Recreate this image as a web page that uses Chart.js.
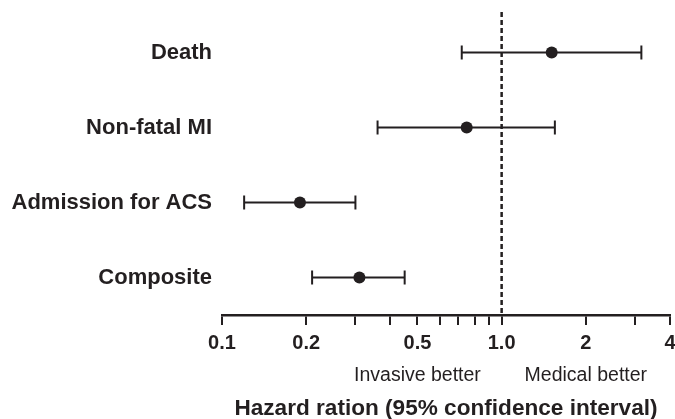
<!DOCTYPE html>
<html lang="en">
<head>
    <meta charset="UTF-8">
    <title>Hazard ratio forest plot</title>
    <style>
        body { margin: 0; background: #fff; }
        canvas { display: block; }
    </style>
</head>
<body>
    <canvas id="forestChart" width="675" height="419"></canvas>
    <script src="https://cdn.jsdelivr.net/npm/chart.js"></script>
    <script>
const categories = ['Death', 'Non-fatal MI', 'Admission for ACS', 'Composite'];
const hazardRatio = [1.51, 0.75, 0.19, 0.31];
const ciLow = [0.72, 0.36, 0.12, 0.21];
const ciHigh = [3.16, 1.55, 0.30, 0.45];
const tickValues = [0.1, 0.2, 0.3, 0.4, 0.5, 0.6, 0.7, 0.8, 0.9, 1.0, 2, 3, 4];
const tickLabels = ['0.1', '0.2', '', '', '0.5', '', '', '', '', '1.0', '2', '', '4'];
const sideLabels = ['Invasive better', 'Medical better'];
const sideValues = [0.5, 2];
const refValue = 1.0;

const ink = '#231f20';
const fontFamily = "'Liberation Sans', Arial, Helvetica, sans-serif";

// whiskers: one line per row, caps drawn as rotated 'line' points
const datasets = categories.map((cat, i) => ({
    data: [{ x: ciLow[i], y: cat }, { x: ciHigh[i], y: cat }],
    showLine: true,
    borderColor: ink,
    borderWidth: 2,
    pointStyle: 'line',
    pointRotation: 90,
    pointRadius: 7,
    pointBorderWidth: 2,
    pointBorderColor: ink
}));

datasets.push({
    data: categories.map((cat, i) => ({ x: hazardRatio[i], y: cat })),
    showLine: false,
    pointStyle: 'circle',
    pointRadius: 6,
    pointBorderWidth: 0,
    backgroundColor: ink,
    pointBackgroundColor: ink
});

const refLinePlugin = {
    id: 'refLine',
    beforeDatasetsDraw(chart) {
        const { ctx, chartArea, scales } = chart;
        const x = scales.x.getPixelForValue(refValue);
        ctx.save();
        ctx.strokeStyle = ink;
        ctx.lineWidth = 2.5;
        ctx.setLineDash([5, 3]);
        ctx.beginPath();
        ctx.moveTo(x, chartArea.top - 3);
        ctx.lineTo(x, chartArea.bottom);
        ctx.stroke();
        ctx.restore();
    },
    afterDraw(chart) {
        const { ctx, scales } = chart;
        ctx.save();
        ctx.fillStyle = ink;
        ctx.font = '19.5px ' + fontFamily;
        ctx.textAlign = 'center';
        ctx.textBaseline = 'middle';
        sideLabels.forEach((txt, i) => {
            ctx.fillText(txt, scales.x.getPixelForValue(sideValues[i]), 376);
        });
        ctx.restore();
    }
};

new Chart(document.getElementById('forestChart'), {
    type: 'scatter',
    data: { datasets: datasets },
    plugins: [refLinePlugin],
    options: {
        responsive: false,
        animation: false,
        layout: { autoPadding: false, padding: { top: 15, right: 5, left: 0, bottom: 0 } },
        plugins: {
            legend: { display: false },
            tooltip: { enabled: false }
        },
        scales: {
            x: {
                type: 'logarithmic',
                min: 0.1,
                max: 4,
                afterBuildTicks: axis => {
                    axis.ticks = tickValues.map(v => ({ value: v }));
                },
                afterFit: axis => {
                    axis.height = 104;
                    axis.paddingLeft = 0;
                    axis.paddingRight = 0;
                },
                ticks: {
                    autoSkip: false,
                    maxRotation: 0,
                    padding: 6,
                    color: ink,
                    font: { family: fontFamily, size: 20, weight: 'bold' },
                    callback: value => {
                        const i = tickValues.indexOf(value);
                        return i >= 0 ? tickLabels[i] : '';
                    }
                },
                grid: {
                    drawOnChartArea: false,
                    drawTicks: true,
                    tickLength: 10,
                    color: ink,
                    lineWidth: 2
                },
                border: { display: true, color: ink, width: 2.5 },
                title: {
                    display: true,
                    text: 'Hazard ration (95% confidence interval)',
                    color: ink,
                    font: { family: fontFamily, size: 22.6, weight: 'bold', lineHeight: 0.9 },
                    padding: { top: 0, bottom: 0 }
                }
            },
            y: {
                type: 'category',
                labels: categories,
                offset: true,
                afterFit: axis => {
                    axis.width = 222;
                    axis.paddingTop = 0;
                    axis.paddingBottom = 0;
                },
                ticks: {
                    autoSkip: false,
                    padding: 10,
                    color: ink,
                    font: { family: fontFamily, size: 22, weight: 'bold' }
                },
                grid: { display: false, drawTicks: false },
                border: { display: false }
            }
        }
    }
});
    </script>
</body>
</html>
